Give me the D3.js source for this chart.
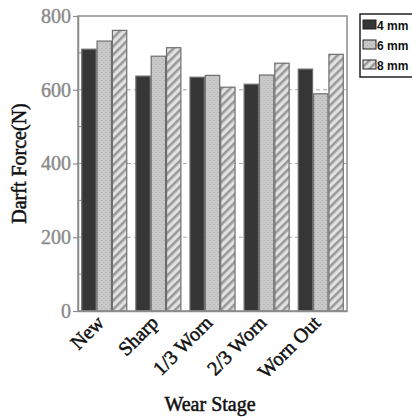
<!DOCTYPE html>
<html>
<head>
<meta charset="utf-8">
<script src="https://cdn.jsdelivr.net/npm/d3@7"></script>
<style>
  html, body { margin: 0; padding: 0; background: #fff; }
  svg { display: block; }
</style>
</head>
<body>
<svg id="chart" width="412" height="417"></svg>
<script>
const categories = ["New", "Sharp", "1/3 Worn", "2/3 Worn", "Worn Out"];
const seriesNames = ["4 mm", "6 mm", "8 mm"];
const values4mm = [710, 637, 634, 615, 656];
const values6mm = [732, 691, 639, 640, 589];
const values8mm = [761, 714, 607, 672, 696];
const yTicks = [0, 200, 400, 600, 800];
const yMinorTicks = [100, 300, 500, 700];
const gridTicks = [200, 400, 600];

const seriesValues = [values4mm, values6mm, values8mm];
const svg = d3.select("#chart");
const plot = { left: 78, right: 347, top: 16, bottom: 311 };

const defs = svg.append("defs");
const stip = defs.append("pattern").attr("id", "stipple")
  .attr("patternUnits", "userSpaceOnUse").attr("width", 4).attr("height", 4);
stip.append("rect").attr("width", 4).attr("height", 4).attr("fill", "#c9c9c9");
stip.append("rect").attr("x", 0).attr("y", 0).attr("width", 1).attr("height", 1).attr("fill", "#a9a9a9");
stip.append("rect").attr("x", 2).attr("y", 2).attr("width", 1).attr("height", 1).attr("fill", "#b3b3b3");
const hatch = defs.append("pattern").attr("id", "hatch")
  .attr("patternUnits", "userSpaceOnUse").attr("width", 6).attr("height", 6)
  .attr("patternTransform", "rotate(45)");
hatch.append("rect").attr("width", 6).attr("height", 6).attr("fill", "#e2e2e2");
hatch.append("rect").attr("x", 0).attr("y", 0).attr("width", 2.6).attr("height", 6).attr("fill", "#9a9a9a");
const fills = ["#363636", "url(#stipple)", "url(#hatch)"];

const x0 = d3.scaleBand().domain(categories).range([plot.left, plot.right])
  .paddingInner(0.15).paddingOuter(0.06);
const x1 = d3.scaleBand().domain(seriesNames).range([0, x0.bandwidth()]).padding(0);
const y = d3.scaleLinear().domain([0, 800]).range([plot.bottom, plot.top]);

svg.append("g").selectAll("line").data(gridTicks).join("line")
  .attr("x1", plot.left).attr("x2", plot.right)
  .attr("y1", d => y(d)).attr("y2", d => y(d))
  .attr("stroke", "#aaa").attr("stroke-width", 1).attr("stroke-dasharray", "4,3");

const groups = svg.append("g").selectAll("g").data(categories).join("g")
  .attr("transform", d => `translate(${x0(d)},0)`);
groups.selectAll("rect")
  .data((c, i) => seriesNames.map((s, j) => ({ s, j, v: seriesValues[j][i] })))
  .join("rect")
  .attr("x", d => x1(d.s) + 0.5)
  .attr("y", d => y(d.v))
  .attr("width", x1.bandwidth() - 1)
  .attr("height", d => y(0) - y(d.v))
  .attr("fill", d => fills[d.j])
  .attr("stroke", "#6e6e6e")
  .attr("stroke-width", 1.2);

svg.append("rect").attr("x", plot.left).attr("y", plot.top)
  .attr("width", plot.right - plot.left).attr("height", plot.bottom - plot.top)
  .attr("fill", "none").attr("stroke", "#8c8c8c").attr("stroke-width", 1.5);

const yAxis = svg.append("g").attr("transform", `translate(${plot.left},0)`)
  .call(d3.axisLeft(y).tickValues(yTicks).tickSize(5).tickSizeOuter(0).tickPadding(2));
yAxis.select(".domain").attr("stroke", "#8c8c8c").attr("stroke-width", 1.5);
yAxis.selectAll(".tick line").attr("stroke", "#8c8c8c").attr("stroke-width", 1.2);
yAxis.selectAll(".tick text").attr("font-family", "'Liberation Serif', serif")
  .attr("font-size", 20).attr("fill", "#8a8a8a")
  .attr("stroke", "#8a8a8a").attr("stroke-width", 0.4);
svg.append("g").selectAll("line").data(yMinorTicks).join("line")
  .attr("x1", plot.left).attr("x2", plot.left + 3)
  .attr("y1", d => y(d)).attr("y2", d => y(d))
  .attr("stroke", "#8c8c8c").attr("stroke-width", 1);

const xAxis = svg.append("g").attr("transform", `translate(0,${plot.bottom})`)
  .call(d3.axisBottom(x0).tickSize(0).tickSizeOuter(0));
xAxis.select(".domain").attr("stroke", "#8c8c8c").attr("stroke-width", 1.5);
xAxis.selectAll(".tick text")
  .attr("font-family", "'Liberation Serif', serif").attr("font-size", 20)
  .attr("fill", "#111").attr("stroke", "#111").attr("stroke-width", 0.5)
  .attr("text-anchor", "end")
  .attr("dy", null)
  .attr("y", 0)
  .attr("transform", "translate(1,13) rotate(-45)");

svg.append("text").attr("x", 210).attr("y", 411)
  .attr("text-anchor", "middle")
  .attr("font-family", "'Liberation Serif', serif").attr("font-size", 20)
  .attr("fill", "#111").attr("stroke", "#111").attr("stroke-width", 0.5)
  .text("Wear Stage");
svg.append("text")
  .attr("transform", `translate(26,${(plot.top + plot.bottom) / 2}) rotate(-90)`)
  .attr("text-anchor", "middle")
  .attr("font-family", "'Liberation Serif', serif").attr("font-size", 20)
  .attr("fill", "#111").attr("stroke", "#111").attr("stroke-width", 0.5)
  .text("Darft Force(N)");

const lg = svg.append("g");
lg.append("rect").attr("x", 360).attr("y", 14).attr("width", 54).attr("height", 63)
  .attr("fill", "#fff").attr("stroke", "#222").attr("stroke-width", 1.5);
const li = lg.selectAll("g.item").data(seriesNames).join("g").attr("class", "item")
  .attr("transform", (d, i) => `translate(363,${25 + i * 20})`);
li.append("rect").attr("x", 0).attr("y", -5).attr("width", 13).attr("height", 9)
  .attr("fill", (d, i) => fills[i]).attr("stroke", "#222").attr("stroke-width", 1);
li.append("text").attr("x", 14).attr("y", 4.5)
  .attr("font-family", "'Liberation Sans', Arial, sans-serif").attr("font-weight", "bold")
  .attr("font-size", 12).attr("fill", "#111").text(d => d);
</script>
</body>
</html>
